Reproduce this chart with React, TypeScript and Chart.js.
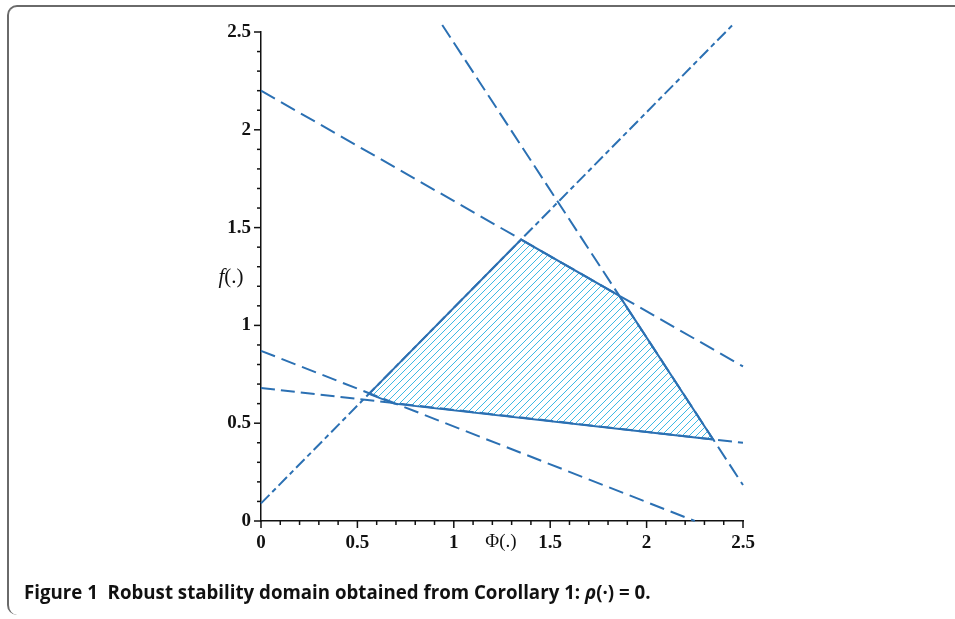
import React, { useEffect, useRef } from 'react';
import { Chart, registerables } from 'chart.js';
Chart.register(...registerables);

// Axis tick labels
const X_TICKS = [0, 0.5, 1, 1.5, 2, 2.5];
const Y_TICKS = [0, 0.5, 1, 1.5, 2, 2.5];
const MINOR_STEP = 0.1;

// Constraint lines (endpoints)
const LINE_RISING = [{ x: 0, y: 0.09 }, { x: 2.446, y: 2.536 }];
const LINE_TOP = [{ x: 0, y: 2.2 }, { x: 2.5, y: 0.79 }];
const LINE_STEEP = [{ x: 0.94, y: 2.536 }, { x: 2.5, y: 0.184 }];
const LINE_LOW = [{ x: 0, y: 0.87 }, { x: 2.25, y: 0 }];
const LINE_FLAT = [{ x: 0, y: 0.68 }, { x: 2.5, y: 0.4 }];

// Stability domain polygon vertices
const DOMAIN = [
  { x: 0.56, y: 0.65 },
  { x: 0.69, y: 0.6 },
  { x: 2.345, y: 0.417 },
  { x: 1.859, y: 1.151 },
  { x: 1.349, y: 1.439 },
  { x: 0.56, y: 0.65 },
];

const LINE_COLOR = '#2b70b3';
const HATCH_COLOR = 'rgb(60, 185, 228)';
const HATCH_SPACING = 7;
const AXIS_COLOR = '#111';

const hatchPlugin = {
  id: 'hatch',
  beforeDatasetsDraw(chart: any) {
    const { ctx, scales } = chart;
    const xs = scales.x;
    const ys = scales.y;
    const pts = DOMAIN.map((p) => ({ x: xs.getPixelForValue(p.x), y: ys.getPixelForValue(p.y) }));
    const minX = Math.floor(Math.min(...pts.map((p) => p.x)));
    const maxX = Math.ceil(Math.max(...pts.map((p) => p.x)));
    const minY = Math.floor(Math.min(...pts.map((p) => p.y)));
    const maxY = Math.ceil(Math.max(...pts.map((p) => p.y)));
    ctx.save();
    ctx.beginPath();
    pts.forEach((p, i) => (i === 0 ? ctx.moveTo(p.x, p.y) : ctx.lineTo(p.x, p.y)));
    ctx.closePath();
    ctx.clip();
    ctx.strokeStyle = HATCH_COLOR;
    ctx.lineWidth = 1;
    ctx.beginPath();
    const h = maxY - minY;
    for (let x0 = minX - h - HATCH_SPACING; x0 <= maxX + HATCH_SPACING; x0 += HATCH_SPACING) {
      ctx.moveTo(x0, maxY);
      ctx.lineTo(x0 + h, minY);
    }
    ctx.stroke();
    ctx.restore();
  },
};

const tickPlugin = {
  id: 'customTicks',
  afterDraw(chart: any) {
    const { ctx, chartArea, scales } = chart;
    const xs = scales.x;
    const ys = scales.y;
    ctx.save();
    ctx.strokeStyle = AXIS_COLOR;
    ctx.lineWidth = 1.5;
    const n = Math.round(2.5 / MINOR_STEP);
    for (let i = 0; i <= n; i++) {
      const v = i * MINOR_STEP;
      const major = i % 5 === 0;
      const len = major ? 7 : 4;
      const px = xs.getPixelForValue(v);
      ctx.beginPath();
      ctx.moveTo(px, chartArea.bottom);
      ctx.lineTo(px, chartArea.bottom + len);
      ctx.stroke();
      const py = ys.getPixelForValue(v);
      ctx.beginPath();
      ctx.moveTo(chartArea.left, py);
      ctx.lineTo(chartArea.left - len, py);
      ctx.stroke();
    }
    ctx.restore();
  },
};

function dashed(data: { x: number; y: number }[], dash: number[]) {
  return {
    data,
    showLine: true,
    borderColor: LINE_COLOR,
    borderWidth: 2,
    borderDash: dash,
    pointRadius: 0,
    fill: false,
    clip: false as any,
  };
}

export default function App() {
  const ref = useRef<HTMLCanvasElement>(null);

  useEffect(() => {
    if (!ref.current) return;
    const tickFont = { family: '"Liberation Serif", "DejaVu Serif", serif', size: 19, weight: 'bold' };
    const chart = new Chart(ref.current, {
      type: 'scatter',
      data: {
        datasets: [
          {
            data: DOMAIN,
            showLine: true,
            borderColor: LINE_COLOR,
            borderWidth: 2,
            pointRadius: 0,
            fill: false,
            clip: false as any,
          },
          dashed(LINE_RISING, [12, 4, 5, 4]),
          dashed(LINE_TOP, [16, 7]),
          dashed(LINE_STEEP, [15, 6]),
          dashed(LINE_LOW, [15, 7]),
          dashed(LINE_FLAT, [14, 6]),
        ] as any,
      },
      options: {
        animation: false,
        responsive: false,
        devicePixelRatio: 1,
        layout: { padding: { left: 221, right: 212, top: 32, bottom: 58 } },
        plugins: { legend: { display: false }, tooltip: { enabled: false } },
        scales: {
          x: {
            type: 'linear',
            min: 0,
            max: 2.5,
            grid: { display: false },
            border: { display: true, color: AXIS_COLOR, width: 1.5 },
            afterBuildTicks: (s: any) => {
              s.ticks = X_TICKS.map((v) => ({ value: v }));
            },
            afterFit: (s: any) => {
              s.height = 40;
            },
            ticks: {
              padding: 3,
              color: AXIS_COLOR,
              font: tickFont,
              maxRotation: 0,
              autoSkip: false,
              callback: (v: any) => String(v),
            },
          },
          y: {
            type: 'linear',
            min: 0,
            max: 2.5,
            grid: { display: false },
            border: { display: true, color: AXIS_COLOR, width: 1.5 },
            afterBuildTicks: (s: any) => {
              s.ticks = Y_TICKS.map((v) => ({ value: v }));
            },
            afterFit: (s: any) => {
              s.width = 40;
            },
            ticks: {
              padding: 2,
              color: AXIS_COLOR,
              font: tickFont,
              autoSkip: false,
              callback: (v: any) => String(v),
            },
          },
        },
      } as any,
      plugins: [hatchPlugin, tickPlugin],
    });
    return () => chart.destroy();
  }, []);

  const serif = '"Liberation Serif", "DejaVu Serif", serif';

  return (
    <div style={{ position: 'absolute', left: 0, top: 0, width: 955, height: 619, background: '#fff', overflow: 'hidden' }}>
      <div
        style={{
          position: 'absolute',
          left: 7,
          top: 5,
          width: 970,
          height: 610,
          borderTop: '2px solid #6a6a6a',
          borderLeft: '2px solid #6a6a6a',
          borderTopLeftRadius: 10,
          borderBottomLeftRadius: 10,
          boxSizing: 'border-box',
        }}
      />
      <canvas ref={ref} width={955} height={619} style={{ position: 'absolute', left: 0, top: 0, display: 'block' }} />
      <span
        style={{
          position: 'absolute',
          left: 214,
          top: 264,
          width: 34,
          textAlign: 'center',
          fontFamily: serif,
          fontSize: 21,
          color: AXIS_COLOR,
          whiteSpace: 'nowrap',
        }}
      >
        <i>f</i>(.)
      </span>
      <span
        style={{
          position: 'absolute',
          left: 481,
          top: 530,
          width: 40,
          textAlign: 'center',
          fontFamily: serif,
          fontSize: 19,
          color: AXIS_COLOR,
          whiteSpace: 'nowrap',
        }}
      >
        Φ(.)
      </span>
      <div
        style={{
          position: 'absolute',
          left: 24,
          top: 579,
          fontFamily: '"Open Sans", "Noto Sans", sans-serif',
          fontWeight: 700,
          fontSize: 18.7,
          color: '#111',
          whiteSpace: 'pre',
        }}
      >
        {'Figure 1  Robust stability domain obtained from Corollary 1: '}
        <i>ρ</i>
        {'(·) = 0.'}
      </div>
    </div>
  );
}
